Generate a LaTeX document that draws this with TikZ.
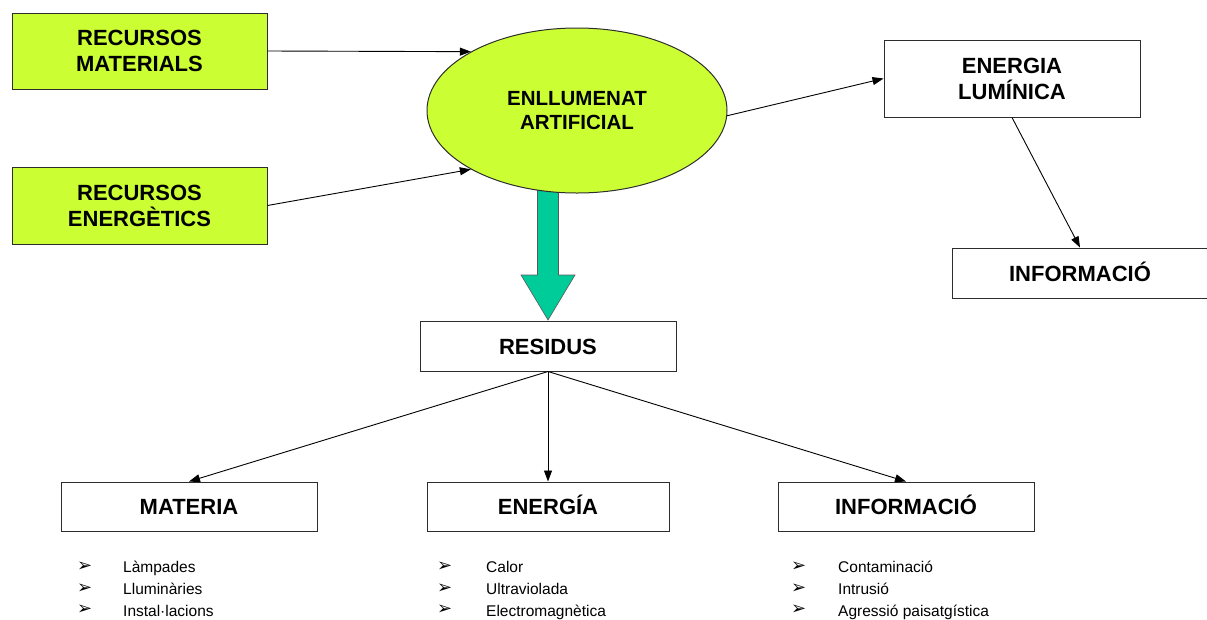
\documentclass[tikz,border=0pt]{standalone}
\usepackage{fontspec}
\setmainfont{Liberation Sans}
\newfontfamily\djv{DejaVu Sans}
\usetikzlibrary{arrows.meta,shapes.geometric}
\definecolor{limefill}{RGB}{204,255,51}
\definecolor{tealfill}{RGB}{0,204,153}
\definecolor{bord}{RGB}{45,45,45}
\begin{document}
\begin{tikzpicture}[x=1pt,y=-1pt,
  box/.style={draw=bord,line width=1pt,inner sep=0pt,align=center,
    font=\bfseries\fontsize{22}{26}\selectfont},
  onebox/.style={box,text height=16pt,text depth=0pt},
  greenbox/.style={box,fill=limefill},
  con/.style={-{Triangle[length=11pt,width=8pt]},line width=0.9pt},
  bul/.style={anchor=base west,inner sep=0pt,font=\djv\bfseries\fontsize{18}{18}\selectfont},
  item/.style={anchor=base west,inner sep=0pt,font=\fontsize{15.5}{18}\selectfont}]
\useasboundingbox (0,0) rectangle (1207,619);
% big green arrow (drawn first, behind the ellipse)
\draw[draw=gray!70!black,line width=0.6pt,fill=tealfill]
  (537.5,175) -- (558.5,175) -- (558.5,275) -- (575,275) -- (548,320)
  -- (521,275) -- (537.5,275) -- cycle;
\node[greenbox,minimum width=255pt,minimum height=76pt] (rm) at (139.5,51) {RECURSOS\\MATERIALS};
\node[greenbox,minimum width=255pt,minimum height=77pt] (re) at (139.5,205.5) {RECURSOS\\ENERG\`ETICS};
\node[ellipse,draw=bord,line width=1pt,fill=limefill,inner sep=0pt,
  minimum width=300pt,minimum height=165pt,align=center,
  font=\bfseries\fontsize{20.5}{24}\selectfont] (ell) at (577,110.5) {ENLLUMENAT\\ARTIFICIAL};
\node[box,minimum width=256pt,minimum height=77pt] (el) at (1012,78.5) {ENERGIA\\LUM\'INICA};
\node[onebox,minimum width=256pt,minimum height=50pt] (info1) at (1080,273) {INFORMACI\'O};
\node[onebox,minimum width=256pt,minimum height=50pt] (res) at (548,346) {RESIDUS};
\node[onebox,minimum width=256pt,minimum height=49pt] (mat) at (189,506.5) {MATERIA};
\node[onebox,minimum width=242pt,minimum height=49pt] (ene) at (548,506.5) {ENERG\'IA};
\node[onebox,minimum width=256pt,minimum height=49pt] (info2) at (906,506.5) {INFORMACI\'O};
% connectors
\draw[con] (rm.east) -- (ell.151);
\draw[con] (re.east) -- (ell.209.5);
\draw[con] (ell.358) -- (el.west);
\draw[con] (el.south) -- (info1.north);
\draw[con] (res.south) -- (mat.north);
\draw[con] (res.south) -- (ene.north);
\draw[con] (res.south) -- (info2.north);
% bullet lists
\node[bul] (b11) at (77,571) {➢};
\node[bul] (b12) at (77,593) {➢};
\node[bul] (b13) at (77,614.5) {➢};
\node[item] (t11) at (123,572) {Làmpades};
\node[item] (t12) at (123,594) {Lluminàries};
\node[item] (t13) at (123,616) {Instal·lacions};
\node[bul] (b21) at (437,571) {➢};
\node[bul] (b22) at (437,593) {➢};
\node[bul] (b23) at (437,614.5) {➢};
\node[item] (t21) at (486,572) {Calor};
\node[item] (t22) at (486,594) {Ultraviolada};
\node[item] (t23) at (486,616) {Electromagnètica};
\node[bul] (b31) at (791,571) {➢};
\node[bul] (b32) at (791,593) {➢};
\node[bul] (b33) at (791,614.5) {➢};
\node[item] (t31) at (838,572) {Contaminació};
\node[item] (t32) at (838,594) {Intrusió};
\node[item] (t33) at (838,616) {Agressió paisatgística};
\end{tikzpicture}
\end{document}
